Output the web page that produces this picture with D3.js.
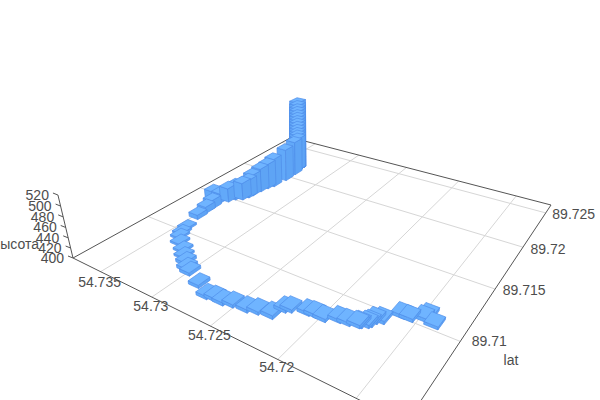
<!DOCTYPE html><html><body style="margin:0;background:#fff"><svg id="s" width="600" height="400" style="display:block"></svg>
<script src="https://cdn.jsdelivr.net/npm/d3@7"></script>
<script>
const lonTicks=[54.735,54.73,54.725,54.72,54.715];
const latTicks=[89.71,89.715,89.72,89.725];
const altTicks=[400,420,440,460,480,500,520];
const lonValues=[71411,71492,71475,71562,71615,71694,71729,71740,71751,71785,71795,71854,71914,71994,72061,72107,72211,72242,72273,72369,
72438,72542,72608,72678,72735,72859,73005,73056,73114,73180,73241,73327,73387,73415,73436,73482,73494,73498,73584,73512,
73467,73441,73392,73373,73367,73357,73341,73321,73305,73307,73333,73333,73333,73332,73332,73332,73331,73331,73331,73331,
73330,73330,73330].map(d=>54+d/1e5);
const latValues=[71064,71083,71112,71044,71043,70950,70931,70896,70881,70861,70855,70841,70835,70799,70801,70794,70765,70747,70670,70656,
70637,70628,70611,70614,70603,70652,70708,70728,70769,70809,70853,70900,70951,70992,71055,71200,71291,71356,71448,71452,
71495,71545,71573,71620,71659,71740,71805,71855,71983,72100,72176,72176,72176,72176,72176,72176,72176,72177,72177,72177,
72177,72177,72178].map(d=>89+d/1e5);
const altValues=[405,406,406,406,406,406,406,406,406,406,406,406,406,406,406,406,406,406,407,406,
406,406,406,406,406,406,406,406,406,404,404,404,404,404,404,409,413,418,420,420,
429,431,436,438,445,450,454,461,469,474,473,480,486,493,500,507,513,520,526,533,
539,546,552];

const P=[[73,258],[406,423],[551,205],[291,137.5]];
const [[x0,y0],[x1,y1],[x2,y2],[x3,y3]]=P;
const sx=x0-x1+x2-x3,sy=y0-y1+y2-y3,dx1=x1-x2,dx2=x3-x2,dy1=y1-y2,dy2=y3-y2,den=dx1*dy2-dx2*dy1;
const g=(sx*dy2-dx2*sy)/den,h=(dx1*sy-sx*dy1)/den;
const a=x1-x0+g*x1,b=x3-x0+h*x3,c=x0,d=y1-y0+g*y1,e=y3-y0+h*y3,f=y0;
const S=-0.0597,NX=310,NY=1250;
const uS=d3.scaleLinear().domain([54.73797,54.7122]).range([0,1]);
const vS=d3.scaleLinear().domain([89.7041,89.7263]).range([0,1]);
const zS=d3.scaleLinear().domain([400,520]).range([0,1]);
function proj(u,v,z){const Z=z*S,W=g*u+h*v+1+Z;return [(a*u+b*v+c+Z*NX)/W,(d*u+e*v+f+Z*NY)/W];}
const svg=d3.select('#s');
const font='"Liberation Sans",Arial,sans-serif',tc='#4d4d4d';
function line(p,q,col,w){svg.append('line').attr('x1',p[0]).attr('y1',p[1]).attr('x2',q[0]).attr('y2',q[1]).attr('stroke',col).attr('stroke-width',w);}
function text(x,y,t,anchor){svg.append('text').attr('x',x).attr('y',y).attr('text-anchor',anchor||'middle').attr('dominant-baseline','central').attr('font-family',font).attr('font-size',14).attr('fill',tc).text(t);}
lonTicks.forEach(t=>line(proj(uS(t),0,0),proj(uS(t),1,0),'#d6d6d6',1));
latTicks.forEach(t=>line(proj(0,vS(t),0),proj(1,vS(t),0),'#d6d6d6',1));
[[0,0,1,0],[1,0,1,1],[1,1,0,1],[0,1,0,0]].forEach(q=>line(proj(q[0],q[1],0),proj(q[2],q[3],0),'#555',1));
line(proj(0,0,0),proj(0,0,1),'#555',1);
altTicks.forEach(t=>{const p=proj(0,0,zS(t));line(p,[p[0]-5,p[1]-2],'#555',1);text(p[0]-9,p[1],t,'end');});
text(39,244,'высота','end');
const lonDy=[10,8.5,8.5,7.5,7];
lonTicks.forEach((t,i)=>{const p=proj(uS(t),0,0);text(p[0]-1,p[1]+lonDy[i],t);});
const latDx=[29,29,25,28],latDy=[0,1,2,1];
latTicks.forEach((t,i)=>{const p=proj(1,vS(t),0);text(p[0]+latDx[i],p[1]+latDy[i],t);});
text(511,360,'lat');
const du=.035/2,dv=.042/2;
const bars=lonValues.map((lon,i)=>({u:uS(lon),v:vS(latValues[i]),z:zS(altValues[i])}));
const depth=p=>Math.round(((p.u-1)**2+p.v**2)*150);
bars.sort((p,q)=>depth(q)-depth(p)||q.z-p.z);
const path=pts=>'M'+pts.map(p=>p.map(n=>n.toFixed(2)).join(',')).join('L')+'Z';
const gBars=svg.append('g').attr('stroke','#4f8eea').attr('stroke-width',.7).attr('stroke-linejoin','round');
bars.forEach(b=>{
 const U0=b.u-du,U1=b.u+du,V0=b.v-dv,V1=b.v+dv,Z=b.z;
 gBars.append('path').attr('d',path([proj(U0,V0,0),proj(U1,V0,0),proj(U1,V0,Z),proj(U0,V0,Z)])).attr('fill','#62a9f9');
 gBars.append('path').attr('d',path([proj(U1,V0,0),proj(U1,V1,0),proj(U1,V1,Z),proj(U1,V0,Z)])).attr('fill','#5ea4f5');
 gBars.append('path').attr('d',path([proj(U0,V0,Z),proj(U1,V0,Z),proj(U1,V1,Z),proj(U0,V1,Z)])).attr('fill','#6fb4ff');
});
</script></body></html>
